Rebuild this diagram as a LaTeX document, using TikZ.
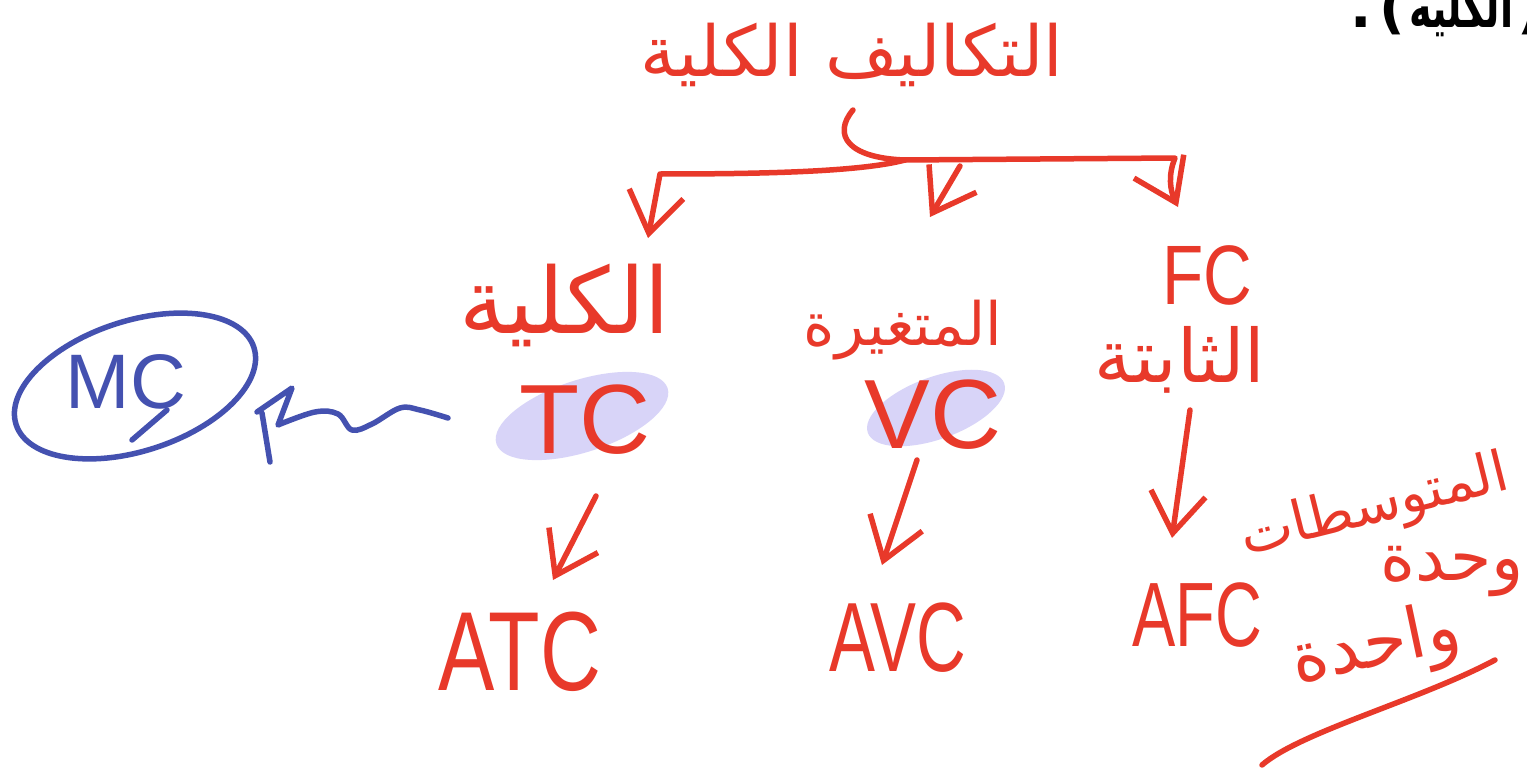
\documentclass[tikz,border=0pt]{standalone}
\usepackage{fontspec}
\usepackage{graphicx}
\setmainfont{Liberation Sans}
\newfontfamily\arabicfont[Script=Arabic]{DejaVu Sans}
\TeXXeTstate=1
\usetikzlibrary{arrows.meta,shapes.geometric}
\definecolor{ink}{HTML}{E8392A}
\definecolor{blueink}{HTML}{4451B0}
\definecolor{hl}{HTML}{D8D4F8}
\newcommand{\narrow}[2]{\scalebox{#1}[1]{#2}}
\tikzset{
  x=0.1mm, y=-0.1mm,
  pen/.style={draw=ink, line width=0.55mm, line cap=round, line join=round},
  bpen/.style={draw=blueink, line width=0.55mm, line cap=round, line join=round},
  tip/.style={-{Straight Barb[length=4mm,width=5.5mm]}},
  ar/.style={text=ink, font=\arabicfont\fontsize{24}{28}\selectfont, inner sep=0pt},
  lat/.style={text=ink, font=\fontsize{28}{32}\selectfont, inner sep=0pt},
  blob/.style={ellipse, fill=hl, draw=none, inner sep=0pt},
  printed/.style={inner sep=0pt, font=\arabicfont\bfseries\fontsize{16}{19}\selectfont},
}
\begin{document}
\begin{tikzpicture}
\useasboundingbox (0,0) rectangle (1527,770);
\fill[white] (0,0) rectangle (1527,770);

% corner printed text (cut off)
\node[printed, anchor=base east] (cornerword) at (1514,28) {\narrow{0.68}{\beginR الكليه\endR}};
\node[printed, anchor=base east] (cornerparen) at ([xshift=-0.3mm]cornerword.base west) {)};
\node[printed, anchor=base east] (cornerdot) at ([xshift=-0.6mm]cornerparen.base west) {.};
\node[printed, anchor=base west] (cornercut) at (1517,28) {(};

% title
\node[ar, font=\arabicfont\fontsize{20}{24}\selectfont] (title) at (852,55) {\beginR التكاليف الكلية\endR};

% highlight blobs
\node[blob, minimum width=18mm, minimum height=7.2mm, rotate=18] (tcblob) at (582,416) {};
\node[blob, minimum width=14.5mm, minimum height=6.2mm, rotate=20] (vcblob) at (936,408) {};

% level 1
\node[ar, font=\arabicfont\fontsize{26}{30}\selectfont] (kulliya) at (565,305) {\beginR الكلية\endR};
\node[ar, font=\arabicfont\fontsize{17}{20}\selectfont] (mutaghayyira) at (903,330) {\beginR المتغيرة\endR};
\node[lat, font=\fontsize{24}{28}\selectfont] (fc) at (1207,275) {\narrow{0.8}{FC}};
\node[ar, font=\arabicfont\fontsize{21}{25}\selectfont] (thabita) at (1180,360) {\beginR الثابتة\endR};

\node[lat] (tc) at (585,420) {TC};
\node[lat] (vc) at (933,415) {VC};

% level 2
\node[lat, font=\fontsize{32}{36}\selectfont] (atc) at (520,652) {\narrow{0.75}{ATC}};
\node[lat, font=\fontsize{28}{32}\selectfont] (avc) at (898,638) {\narrow{0.7}{AVC}};
\node[lat, font=\fontsize{26}{30}\selectfont] (afc) at (1197,615) {\narrow{0.71}{AFC}};

% note
\node[ar, font=\arabicfont\fontsize{16}{19}\selectfont, rotate=14] (mutawassitat) at (1375,508) {\beginR المتوسطات\endR};
\node[ar, font=\arabicfont\fontsize{19}{23}\selectfont] (wahda) at (1452,572) {\beginR وحدة\endR};
\node[ar, font=\arabicfont\fontsize{20}{24}\selectfont, rotate=12] (wahida) at (1376,648) {\beginR واحدة\endR};
\coordinate (ul1) at (1262,765);
\coordinate (ul2) at (1495,660);
\draw[pen] (ul1) .. controls (1300,732) and (1420,700) .. (ul2);

% MC
\node[text=blueink, font=\fontsize{22}{26}\selectfont, inner sep=0pt] (mc) at (126,382) {MC};
\node[ellipse, draw=blueink, line width=0.55mm, minimum width=25mm, minimum height=13mm, rotate=18] (mcring) at (135,386) {};
\coordinate (mcclose1) at (167,410);
\coordinate (mcclose2) at (132,440);
\draw[bpen] (mcclose1) -- (mcclose2);

% tree connectors
\coordinate (c0) at (853,110);
\coordinate (J) at (905,160);
\coordinate (Lc) at (660,174);
\coordinate (La) at (648,238);
\coordinate (Rc) at (1175,158);
\coordinate (Ra) at (1178,207);
\coordinate (M0) at (960,166);
\coordinate (Ma) at (930,217);
\draw[pen] (c0) .. controls (832,135) and (848,158) .. (J);
\draw[pen, tip] (J) .. controls (860,172) and (760,174) .. (Lc) -- (La);
\draw[pen, tip] (J) -- (Rc) .. controls (1168,175) and (1170,190) .. (Ra);
\draw[pen, tip] (M0) -- (Ma);

% down arrows
\coordinate (t1) at (596,496);
\coordinate (t2) at (553,580);
\coordinate (v1) at (917,460);
\coordinate (v2) at (882,565);
\coordinate (f1) at (1190,410);
\coordinate (f2) at (1172,538);
\draw[pen, tip] (t1) -- (t2);
\draw[pen, tip] (v1) -- (v2);
\draw[pen, tip] (f1) -- (f2);

% blue wavy arrow TC -> MC
\coordinate (w0) at (448,418);
\coordinate (wtip) at (257,412);
\draw[bpen] plot[smooth, tension=0.6] coordinates {(w0) (420,410) (400,408) (372,424) (352,430) (338,414) (315,412) (278,425)} -- (292,388) -- (wtip);
\draw[bpen] (262,413) -- (270,462);
\end{tikzpicture}
\end{document}
